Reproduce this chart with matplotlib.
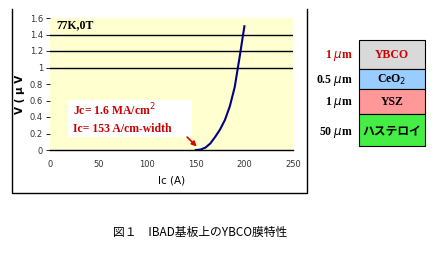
import matplotlib
matplotlib.use("Agg")
import matplotlib.pyplot as plt
from matplotlib.patches import Rectangle

# ---- data ----
ic_amp = [150, 155, 160, 165, 170, 175, 180, 185, 190, 195, 200]
voltage_uv = [0.0, 0.005, 0.03, 0.08, 0.16, 0.25, 0.365, 0.53, 0.76, 1.12, 1.5]
x_ticks = [0, 50, 100, 150, 200, 250]
y_ticks = [0, 0.2, 0.4, 0.6, 0.8, 1.0, 1.2, 1.4, 1.6]
y_tick_labels = ["0", "0.2", "0.4", "0.6", "0.8", "1", "1.2", "1.4", "1.6"]
grid_levels = [1.0, 1.2, 1.4]
ic_point = 153

layer_names = ["YBCO", "CeO$_2$", "YSZ", "ハステロイ"]
layer_thick = ["1 $\\mu$m", "0.5 $\\mu$m", "1 $\\mu$m", "50 $\\mu$m"]
layer_colors = ["#D9D9D9", "#99CCFF", "#FF9999", "#44EE44"]
layer_text_colors = ["#CC0000", "#000000", "#000000", "#000000"]
layer_thick_colors = ["#CC0000", "#000000", "#000000", "#000000"]

W, H = 443, 256
fig = plt.figure(figsize=(W / 100, H / 100), dpi=100)

# background overlay axes in pixel coordinates
bg = fig.add_axes([0, 0, 1, 1])
bg.set_xlim(0, W)
bg.set_ylim(H, 0)
bg.axis("off")

# outer chart frame (left, bottom, right)
bg.plot([12.5, 12.5, 307, 307], [9, 193, 193, 9], color="black", lw=1.0)

# layer stack
edges = [40, 69, 89, 114, 146]
for i, name in enumerate(layer_names):
    y0, y1 = edges[i], edges[i + 1]
    bg.add_patch(Rectangle((359, y0), 66, y1 - y0, facecolor=layer_colors[i],
                           edgecolor="black", lw=0.8))
    fam = ["Noto Sans CJK JP"] if i == 3 else ["Liberation Serif"]
    yc = (y0 + y1) / 2 + (0.5 if i != 3 else 2)
    bg.text(392, yc, name, ha="center", va="center",
            fontsize=8.5, color=layer_text_colors[i], family=fam,
            fontweight="bold")
    bg.text(353, yc + 0.5, layer_thick[i], ha="right", va="center",
            fontsize=8.5, color=layer_thick_colors[i], family=["Liberation Serif"],
            fontweight="bold")

# caption
bg.text(200, 232, "図１　IBAD基板上のYBCO膜特性", ha="center", va="center",
        fontsize=8.5, family=["Noto Sans CJK JP", "DejaVu Sans"])

# main axes
ax = fig.add_axes([50 / W, 1 - 150 / H, 243 / W, 132 / H])
ax.set_facecolor("#FFFFD0")
ax.set_xlim(0, 250)
ax.set_ylim(0, 1.6)
for lvl in grid_levels:
    ax.axhline(lvl, color="black", lw=1.0, zorder=1)
ax.plot(ic_amp, voltage_uv, color="#000080", lw=1.5, zorder=3)

for s in ["top", "right", "left"]:
    ax.spines[s].set_visible(False)
ax.spines["bottom"].set_linewidth(1.0)

ax.set_xticks(x_ticks)
ax.set_xticklabels([str(v) for v in x_ticks])
ax.set_yticks(y_ticks)
ax.set_yticklabels(y_tick_labels)
ax.tick_params(axis="x", length=0, pad=7, labelsize=6, labelcolor="#333333")
ax.tick_params(axis="y", length=3, width=0.6, pad=2, labelsize=6, labelcolor="#333333")

ax.set_xlabel("Ic (A)", fontsize=7.5)
ax.set_ylabel("V ( μ V", fontsize=7.5, fontweight="bold")
ax.yaxis.set_label_coords(-0.103, 0.42)
ax.xaxis.set_label_coords(0.5, -0.19)

ax.text(7, 1.51, "77K,0T", fontsize=8.5, family=["Liberation Serif"],
        fontweight="bold", va="center", ha="left")

ax.add_patch(Rectangle((18.5, 0.16), 127.5, 0.45, facecolor="white",
                       edgecolor="none", zorder=4))
ax.text(24, 0.385, "Jc= 1.6 MA/cm$^2$\nIc= 153 A/cm-width", fontsize=8.5,
        family=["Liberation Serif"], fontweight="bold", color="#CC0000",
        va="center", ha="left", linespacing=1.45, zorder=5)

ax.annotate("", xy=(ic_point, 0.02), xytext=(139, 0.18),
            arrowprops=dict(arrowstyle="-|>", color="#DD0000", lw=1.2,
                            mutation_scale=7), zorder=6)

fig.savefig("out.png", dpi=100)
